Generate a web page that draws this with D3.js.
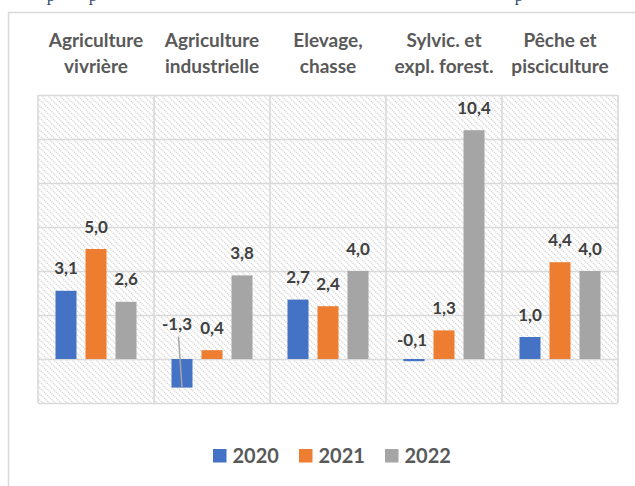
<!DOCTYPE html>
<html><head><meta charset="utf-8">
<script src="https://cdn.jsdelivr.net/npm/d3@7"></script>
<style>
html,body{margin:0;padding:0;background:#fff;}
svg{display:block;}
</style></head>
<body>
<svg id="c" width="635" height="486"></svg>
<script>
const categories = [
  ["Agriculture","vivrière"],
  ["Agriculture","industrielle"],
  ["Elevage,","chasse"],
  ["Sylvic. et","expl. forest."],
  ["Pêche et","pisciculture"]
];
const years = ["2020","2021","2022"];
const values2020 = [3.1, -1.3, 2.7, -0.1, 1.0];
const values2021 = [5.0, 0.4, 2.4, 1.3, 4.4];
const values2022 = [2.6, 3.8, 4.0, 10.4, 4.0];
const yTicks = [-2, 0, 2, 4, 6, 8, 10, 12];
const colors = ["#4472c4", "#ed7d31", "#a5a5a5"];

const series = [values2020, values2021, values2022];
const catKeys = categories.map(c => c.join(" "));

const svg = d3.select("#c");
const plot = {left: 38, right: 618, top: 95, bottom: 403};

// outer chart border
svg.append("rect").attr("x", 8.5).attr("y", 12.5).attr("width", 700).attr("height", 600)
  .attr("fill", "#fff").attr("stroke", "#d9d9d9").attr("stroke-width", 1.5);

// cropped title descenders at top (as in the reference)
[51, 93, 519].forEach(x => {
  svg.append("text").attr("x", x).attr("y", 0.5).attr("text-anchor", "middle")
    .attr("font-family", "Liberation Serif").attr("font-size", 17).attr("fill", "#2f4a70").text("p");
});

const x0 = d3.scaleBand().domain(catKeys).range([plot.left, plot.right]).padding(0);
const x1 = d3.scaleBand().domain(years).range([0, x0.bandwidth()]).paddingInner(0.3).paddingOuter(0.583);
const y = d3.scaleLinear().domain([d3.min(yTicks), d3.max(yTicks)]).range([plot.bottom, plot.top]);

// hatch pattern
const defs = svg.append("defs");
const pat = defs.append("pattern").attr("id", "hatch").attr("patternUnits", "userSpaceOnUse")
  .attr("width", 6).attr("height", 6);
pat.append("rect").attr("width", 6).attr("height", 6).attr("fill", "#fff");
pat.append("path").attr("d", "M-1,-1 L7,7 M-1,5 L1,7 M5,-1 L7,1")
  .attr("stroke", "#d3d3d3").attr("stroke-width", 1.3).attr("stroke-dasharray", "1.2,0.9");

svg.append("rect").attr("x", plot.left).attr("y", plot.top)
  .attr("width", plot.right - plot.left).attr("height", plot.bottom - plot.top)
  .attr("fill", "url(#hatch)");

// horizontal gridlines
const gAxis = svg.append("g").attr("transform", `translate(${plot.left},0)`)
  .call(d3.axisLeft(y).tickValues(yTicks).tickSize(-(plot.right - plot.left)).tickFormat(""));
gAxis.select(".domain").remove();
gAxis.selectAll(".tick line").attr("stroke", "#d9d9d9").attr("stroke-width", 1.6);

// vertical category dividers
const bounds = catKeys.map(k => x0(k)).concat([plot.right]);
svg.append("g").selectAll("line").data(bounds).join("line")
  .attr("x1", d => d).attr("x2", d => d).attr("y1", plot.top).attr("y2", plot.bottom)
  .attr("stroke", "#d9d9d9").attr("stroke-width", 1.6);

// category labels (top)
const catG = svg.append("g");
categories.forEach((lines, i) => {
  const cx = x0(catKeys[i]) + x0.bandwidth() / 2;
  const t = catG.append("text").attr("text-anchor", "middle")
    .attr("font-family", "Lato").attr("font-weight", "bold").attr("font-size", 19)
    .attr("fill", "#595959");
  t.append("tspan").attr("x", cx).attr("y", 47).text(lines[0]);
  t.append("tspan").attr("x", cx).attr("y", 73).text(lines[1]);
});

// bars
const bars = [];
series.forEach((vals, si) => vals.forEach((v, ci) => bars.push({si, ci, v})));
svg.append("g").selectAll("rect").data(bars).join("rect")
  .attr("x", d => x0(catKeys[d.ci]) + x1(years[d.si]))
  .attr("width", x1.bandwidth())
  .attr("y", d => y(Math.max(d.v, 0)))
  .attr("height", d => Math.abs(y(d.v) - y(0)))
  .attr("fill", d => colors[d.si]);

// label nudges (layout only)
const nudge = {"1-0": {dx: -5, dy: -13, leader: true}, "3-0": {dx: -2, dy: 3}};
const fmt = v => v.toFixed(1).replace(".", ",");
const lblG = svg.append("g");
bars.forEach(d => {
  const n = nudge[d.ci + "-" + d.si] || {dx: 0, dy: 0};
  const cx = x0(catKeys[d.ci]) + x1(years[d.si]) + x1.bandwidth() / 2;
  const ly = y(Math.max(d.v, 0)) - 16.5 + n.dy;
  if (n.leader) {
    lblG.append("line").attr("x1", cx + n.dx + 1.5).attr("y1", ly + 7)
      .attr("x2", cx).attr("y2", y(d.v))
      .attr("stroke", "#a5a5a5").attr("stroke-width", 1.5);
  }
  lblG.append("text").attr("x", cx + n.dx).attr("y", ly).attr("text-anchor", "middle")
    .attr("font-family", "Lato").attr("font-weight", "bold").attr("font-size", 17)
    .attr("fill", "#404040").text(fmt(d.v));
});

// legend
const legX = [213, 299, 385];
const leg = svg.append("g");
years.forEach((yr, i) => {
  leg.append("rect").attr("x", legX[i]).attr("y", 449).attr("width", 13.5).attr("height", 13.5)
    .attr("fill", colors[i]);
  leg.append("text").attr("x", legX[i] + 19.5).attr("y", 462.5)
    .attr("font-family", "Lato").attr("font-weight", "bold").attr("font-size", 20)
    .attr("fill", "#595959").text(yr);
});
</script>
</body></html>
